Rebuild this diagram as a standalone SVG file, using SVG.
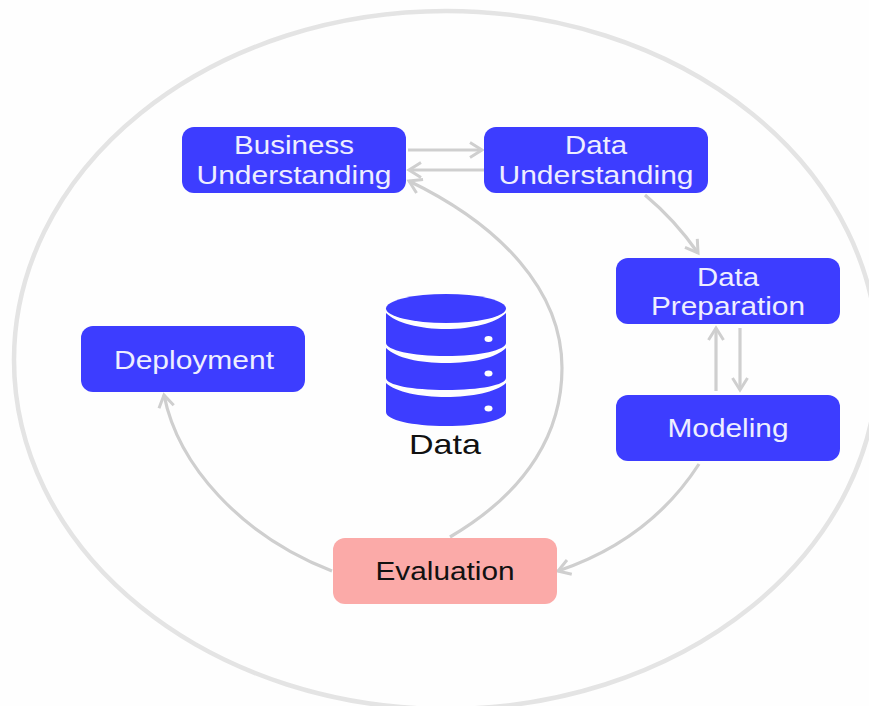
<svg xmlns="http://www.w3.org/2000/svg" width="869" height="706" viewBox="0 0 869 706">
<defs>
<marker id="arrow" markerUnits="userSpaceOnUse" markerWidth="24" markerHeight="24" refX="18" refY="12" orient="auto">
<path d="M6 4.500L18 12L6 19.500" fill="none" stroke="#cfcfcf" stroke-width="3"/>
</marker>
</defs>
<style>
.bg{fill:#fefefe}
.ring{fill:none;stroke:#e4e4e4;stroke-width:4.500}
.c{fill:none;stroke:#cfcfcf;stroke-width:3.200;marker-end:url(#arrow)}
.blue{fill:#3d3dff}
.pink{fill:#fbaaa8}
text{font-family:"Liberation Sans",Arial,sans-serif;font-size:25px;text-anchor:middle}
.w{fill:#eeeeff}
.k{fill:#111}
.dot{fill:#fff}
.big{font-size:28px}
</style>
<rect class="bg" width="869" height="706"/>
<ellipse class="ring" cx="446" cy="360" rx="432" ry="349"/>
<g id="connectors">
<path class="c" d="M408 150H482"/>
<path class="c" d="M484 170H409"/>
<path class="c" d="M645 195Q675 220 698 253"/>
<path class="c" d="M716 391V328"/>
<path class="c" d="M740 328V390"/>
<path class="c" d="M699 464Q650 540 558 571"/>
<path class="c" d="M450 537C530 490 562 430 562 368C562 290 500 225 409 181"/>
<path class="c" d="M332 571C240 535 178 465 164 395"/>
</g>
<g id="business-understanding"><rect class="blue" x="182" y="127" width="224" height="66" rx="12"/><text class="w" x="294" y="154" textLength="120" lengthAdjust="spacingAndGlyphs">Business</text><text class="w" x="294" y="184" textLength="195" lengthAdjust="spacingAndGlyphs">Understanding</text></g>
<g id="data-understanding"><rect class="blue" x="484" y="127" width="224" height="66" rx="12"/><text class="w" x="596" y="154" textLength="62" lengthAdjust="spacingAndGlyphs">Data</text><text class="w" x="596" y="184" textLength="195" lengthAdjust="spacingAndGlyphs">Understanding</text></g>
<g id="data-preparation"><rect class="blue" x="616" y="258" width="224" height="66" rx="12"/><text class="w" x="728" y="286" textLength="62" lengthAdjust="spacingAndGlyphs">Data</text><text class="w" x="728" y="315" textLength="154" lengthAdjust="spacingAndGlyphs">Preparation</text></g>
<g id="modeling"><rect class="blue" x="616" y="395" width="224" height="66" rx="12"/><text class="w" x="728" y="437" textLength="121" lengthAdjust="spacingAndGlyphs">Modeling</text></g>
<g id="evaluation"><rect class="pink" x="333" y="538" width="224" height="66" rx="12"/><text class="k" x="445" y="580" textLength="139" lengthAdjust="spacingAndGlyphs">Evaluation</text></g>
<g id="deployment"><rect class="blue" x="81" y="326" width="224" height="66" rx="12"/><text class="w" x="194" y="369" textLength="160" lengthAdjust="spacingAndGlyphs">Deployment</text></g>
<g id="data">
<ellipse class="blue" cx="446" cy="308.500" rx="60" ry="14.500"/>
<path class="blue" d="M386 313C396 323 420 329 446 329C472 329 496 323 506 313V343C506 350 480 356 446 356C412 356 386 350 386 343Z"/>
<path class="blue" d="M386 348C396 358 420 363 446 363C472 363 496 358 506 348V378C506 385 480 390 446 390C412 390 386 385 386 378Z"/>
<path class="blue" d="M386 383C396 392 420 397 446 397C472 397 496 392 506 383V412C506 420 480 426 446 426C412 426 386 420 386 412Z"/>
<ellipse class="dot" cx="488.500" cy="339" rx="4" ry="3"/>
<ellipse class="dot" cx="488.500" cy="373.500" rx="4" ry="3"/>
<ellipse class="dot" cx="488.500" cy="408.500" rx="4" ry="3"/>
<text class="k big" x="445" y="454" textLength="72" lengthAdjust="spacingAndGlyphs">Data</text>
</g>
</svg>
